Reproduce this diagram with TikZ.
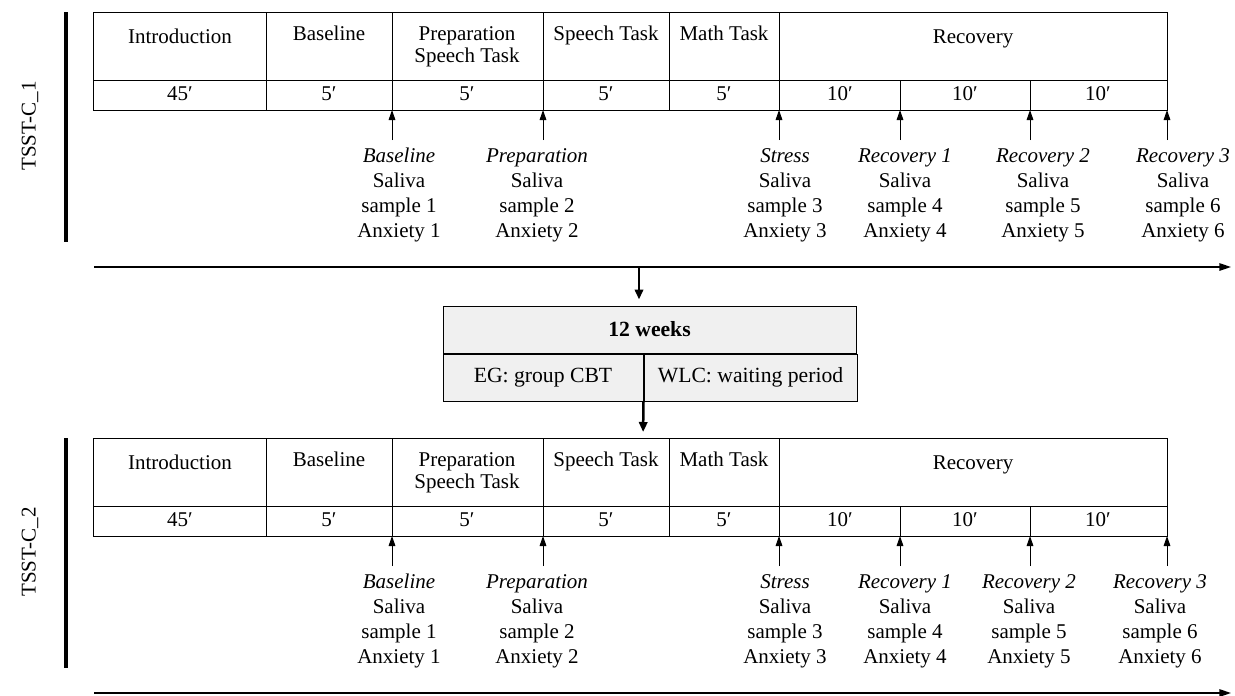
\documentclass[tikz,border=0pt]{standalone}
\usepackage{fontspec}
\setmainfont{Liberation Serif}
\usetikzlibrary{positioning,arrows.meta,calc}
\definecolor{boxgray}{RGB}{240,240,240}

\begin{document}
\begin{tikzpicture}[
  x=.6pt,y=-.6pt,>=Stealth,
  font=\fontsize{12.6}{15}\selectfont,
  cell/.style={black,line width=.6pt},
  headtext/.style={inner sep=0pt,align=center,font=\fontsize{12.6}{13.4}\selectfont},
  sampletext/.style={anchor=north,inner sep=0pt,align=center},
  tickarrow/.style={-{Triangle[length=6pt,width=4pt]},line width=.6pt,shorten <=4.8pt},
  timeline/.style={-{Triangle[length=7pt,width=4.5pt]},line width=.9pt},
  phasebar/.style={line width=2.6pt},
  bridge/.style={-{Triangle[length=6pt,width=5pt]},line width=1.5pt},
  weekbox/.style={draw,line width=.6pt,fill=boxgray,inner sep=0pt,minimum height=28.2pt,font=\fontsize{13}{15}\selectfont}
]
\useasboundingbox (0,0) rectangle (1235,695);
% Both sessions share the same table layout, shifted down for the second one.
\foreach \p/\dy/\rtwo/\rthree in {1/0/1043/1183,2/426/1029/1160} {
\begin{scope}[shift={(0,\dy)}]
  \draw[cell] (93,12) rectangle (1167,110);
  \draw[cell] (93,80) -- (1167,80);
  \foreach \cx in {266,392,543,669,779} \draw[cell] (\cx,12) -- (\cx,110);
  \foreach \cx in {900,1030} \draw[cell] (\cx,80) -- (\cx,110);
  \node[headtext,anchor=base] (intro\p) at (180,43) {Introduction};
  \node[headtext,anchor=base] (base\p) at (329,40) {Baseline};
  \node[headtext,anchor=north] (prep\p) at (467,26) {Preparation\\Speech Task};
  \node[headtext,anchor=base] (speech\p) at (606,40) {Speech Task};
  \node[headtext,anchor=base] (math\p) at (724,40) {Math Task};
  \node[headtext,anchor=base] (recov\p) at (973,43) {Recovery};
  \foreach \cx/\dur [count=\k] in {180/45,329/5,467/5,606/5,724/5,840/10,965/10,1098/10}
    \node[anchor=base,inner sep=0pt] (dur\p-\k) at (\cx,100) {\dur′};
  \foreach \tx [count=\k] in {392,543,779,900,1030,1167}
    \coordinate (tick\p-\k) at (\tx,110);
  \node[sampletext] (samp\p-1) at (399,148) {\textit{Baseline}\\Saliva\\sample 1\\Anxiety 1};
  \node[sampletext] (samp\p-2) at (537,148) {\textit{Preparation}\\Saliva\\sample 2\\Anxiety 2};
  \node[sampletext] (samp\p-3) at (785,148) {\textit{Stress}\\Saliva\\sample 3\\Anxiety 3};
  \node[sampletext] (samp\p-4) at (905,148) {\textit{Recovery 1}\\Saliva\\sample 4\\Anxiety 4};
  \node[sampletext] (samp\p-5) at (\rtwo,148) {\textit{Recovery 2}\\Saliva\\sample 5\\Anxiety 5};
  \node[sampletext] (samp\p-6) at (\rthree,148) {\textit{Recovery 3}\\Saliva\\sample 6\\Anxiety 6};
  \foreach \k in {1,...,6}
    \draw[tickarrow] (samp\p-\k.north -| tick\p-\k) -- (tick\p-\k);
  \coordinate (tstart\p) at (94,267);
  \coordinate (tend\p) at (1231,267);
  \draw[timeline] (tstart\p) -- (tend\p);
  \draw[phasebar] (66,12) -- (66,242);
  \node[rotate=90] (sess\p) at (30,126) {TSST-C\_\p};
\end{scope}
}
% Intervention period between the two sessions
\node[weekbox,minimum width=247.8pt] (weeks) at (649.5,329.5) {\textbf{12 weeks}};
\node[weekbox,minimum width=120pt,anchor=north west] (eg) at (weeks.south west) {EG: group CBT};
\node[weekbox,minimum width=127.8pt,right=0pt of eg] (wlc) {WLC: waiting period};
\coordinate (split) at (639,267);
\coordinate (join) at (643,438);
\draw[bridge,shorten >=3.6pt] (split) -- (weeks.north -| split);
\draw[bridge,shorten >=3.6pt] (eg.south east) -- (join);
\end{tikzpicture}
\end{document}
